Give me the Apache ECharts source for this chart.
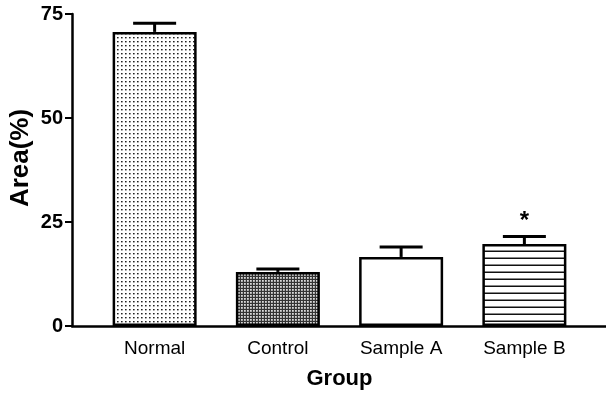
<!DOCTYPE html>
<html>
<head>
<meta charset="utf-8">
<script src="https://cdn.jsdelivr.net/npm/echarts@6/dist/echarts.min.js"></script>
<style>
html,body{margin:0;padding:0;background:#fff;}
#chart{width:606px;height:394px;}
</style>
</head>
<body>
<div id="chart"></div>
<script>
// ---- data ----
var categories = ['Normal', 'Control', 'Sample A', 'Sample B'];
var means = [70.7, 13.0, 16.6, 19.7];
var errors = [2.1, 0.7, 2.4, 1.8];
var sigMarks = ['', '', '', '*'];
var yTicks = [0, 25, 50, 75];

// ---- patterns ----
function makePattern(w, h, draw) {
  var c = document.createElement('canvas');
  c.width = w; c.height = h;
  var ctx = c.getContext('2d');
  draw(ctx, w, h);
  return { image: c, repeat: 'repeat' };
}
var dotPattern = makePattern(4, 4, function (ctx, w, h) {
  ctx.fillStyle = '#fff'; ctx.fillRect(0, 0, w, h);
  ctx.fillStyle = '#222'; ctx.fillRect(1, 1, 1.6, 1.4);
});
var gridPattern = makePattern(3, 3, function (ctx, w, h) {
  ctx.fillStyle = '#333'; ctx.fillRect(0, 0, w, h);
  ctx.fillStyle = '#d8d8d8'; ctx.fillRect(1, 1, 1.8, 1.8);
});
var linePattern = makePattern(8, 7.8, function (ctx, w, h) {
  ctx.fillStyle = '#fff'; ctx.fillRect(0, 0, w, h);
  ctx.fillStyle = '#111'; ctx.fillRect(0, 5.5, w, 1.8);
});
var fills = [dotPattern, gridPattern, '#ffffff', linePattern];

var barData = means.map(function (v, i) {
  return { value: v, itemStyle: { color: fills[i] } };
});
var errData = means.map(function (v, i) {
  return [i, v, v + errors[i], sigMarks[i]];
});

var chart = echarts.init(document.getElementById('chart'), null, { renderer: 'canvas' });
var font = '"Liberation Sans", Arial, Helvetica, sans-serif';

chart.setOption({
  backgroundColor: '#fff',
  animation: false,
  grid: [
    { left: 93, right: 20, top: 14, bottom: 68, containLabel: false, outerBoundsMode: 'none' },
    { left: 72, right: 0, top: 14, bottom: 68, containLabel: false, outerBoundsMode: 'none' }
  ],
  xAxis: [
    {
      type: 'category', gridIndex: 0, data: categories,
      axisLine: { show: false }, axisTick: { show: false },
      axisLabel: { color: '#000', fontFamily: font, fontSize: 19, margin: 13 },
      name: 'Group', nameLocation: 'middle', nameGap: 42, nameMoveOverlap: false,
      nameTextStyle: { color: '#000', fontFamily: font, fontSize: 22, fontWeight: 'bold' }
    },
    {
      type: 'value', gridIndex: 1, min: 0, max: 1,
      axisLine: { show: true, onZero: false, lineStyle: { color: '#000', width: 2.5 } },
      axisTick: { show: false }, axisLabel: { show: false }, splitLine: { show: false }
    }
  ],
  yAxis: [
    {
      type: 'value', gridIndex: 0, min: yTicks[0], max: yTicks[yTicks.length - 1], interval: 25,
      offset: 21,
      axisLine: { show: true, lineStyle: { color: '#000', width: 2.5 } },
      axisTick: { show: true, length: 7, lineStyle: { color: '#000', width: 2 } },
      axisLabel: { color: '#000', fontFamily: font, fontSize: 20, fontWeight: 'bold', margin: 9 },
      splitLine: { show: false },
      name: 'Area(%)', nameLocation: 'middle', nameRotate: 90, nameGap: 38, nameMoveOverlap: false,
      nameTextStyle: { color: '#000', fontFamily: font, fontSize: 26, fontWeight: 'bold', padding: [0, 0, 0, 24] }
    },
    {
      type: 'value', gridIndex: 1, min: 0, max: 1, show: false
    }
  ],
  series: [
    {
      type: 'bar', xAxisIndex: 0, yAxisIndex: 0, barWidth: 84,
      data: barData,
      itemStyle: { borderColor: '#000', borderWidth: 2.5 },
      z: 2
    },
    {
      type: 'custom', xAxisIndex: 0, yAxisIndex: 0, data: errData, z: 3,
      renderItem: function (params, api) {
        var base = api.coord([api.value(0), api.value(1)]);
        var top = api.coord([api.value(0), api.value(2)]);
        var half = 21.5;
        var st = { stroke: '#000', lineWidth: 3 };
        var children = [
          { type: 'line', shape: { x1: base[0], y1: base[1], x2: top[0], y2: top[1] }, style: st },
          { type: 'line', shape: { x1: top[0] - half, y1: top[1], x2: top[0] + half, y2: top[1] }, style: st }
        ];
        var mark = sigMarks[params.dataIndex];
        if (mark) {
          children.push({
            type: 'text',
            style: {
              text: mark, x: top[0], y: top[1] - 15,
              fill: '#000', font: 'bold 24px ' + font,
              textAlign: 'center', textVerticalAlign: 'middle'
            }
          });
        }
        return { type: 'group', children: children };
      }
    }
  ]
});
</script>
</body>
</html>
